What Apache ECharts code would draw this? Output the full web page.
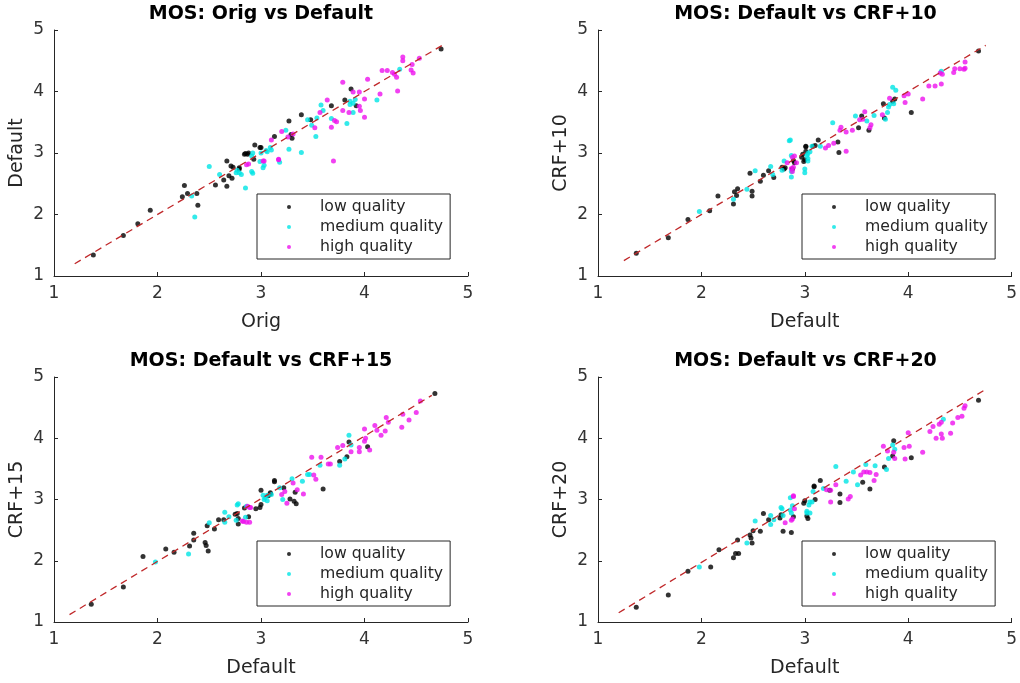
<!DOCTYPE html>
<html>
<head>
<meta charset="utf-8">
<script src="https://cdn.jsdelivr.net/npm/echarts@6/dist/echarts.min.js"></script>
<style>
html,body{margin:0;padding:0;background:#fff;}
#chart{width:1020px;height:683px;}
</style>
</head>
<body>
<div id="chart"></div>
<script>
// ---- Titles / axis names ----
const titles = ['MOS: Orig vs Default', 'MOS: Default vs CRF+10', 'MOS: Default vs CRF+15', 'MOS: Default vs CRF+20'];
const xNames = ['Orig', 'Default', 'Default', 'Default'];
const yNames = ['Default', 'CRF+10', 'CRF+15', 'CRF+20'];
const qualityNames = ['low quality', 'medium quality', 'high quality'];
const tickValues = [1, 2, 3, 4, 5];

// ---- Plot 1: Orig vs Default ----
const p1Low = [[1.38,1.34],[1.67,1.66],[1.81,1.85],[1.93,2.07],[2.26,2.47],[2.24,2.29],[2.29,2.34],[2.38,2.34],[2.39,2.15],[2.56,2.48],[2.67,2.87],[2.71,2.79],[2.64,2.56],[2.69,2.63],[2.72,2.59],[2.67,2.46],[2.79,2.74],[2.84,2.98],[2.87,2.98],[2.94,3.13],[2.99,3.09],[2.73,2.77],[2.79,2.76],[2.88,3.0],[2.85,2.99],[2.93,2.90],[3.0,3.09],[3.13,3.27],[3.29,3.30],[3.30,3.24],[3.27,3.52],[3.39,3.62],[3.48,3.54],[3.68,3.77],[3.81,3.86],[3.87,4.04],[3.92,3.77],[4.74,4.69]];
const p1Med = [[2.36,1.96],[2.33,2.3],[2.50,2.78],[2.60,2.65],[2.76,2.68],[2.81,2.65],[2.85,2.43],[2.92,2.67],[2.92,3.0],[3.0,3.0],[3.02,2.76],[3.06,3.02],[3.1,3.05],[2.77,2.72],[2.79,2.68],[2.91,2.70],[2.91,2.95],[2.99,2.86],[3.03,2.8],[3.18,2.85],[3.09,3.09],[3.05,3.04],[3.27,3.06],[3.39,3.01],[3.24,3.37],[3.45,3.54],[3.54,3.57],[3.49,3.45],[3.53,3.27],[3.58,3.78],[3.60,3.69],[3.68,3.56],[3.83,3.48],[3.86,3.84],[3.89,3.81],[3.86,3.79],[3.91,3.87],[3.89,3.66],[4.12,3.86],[4.34,4.36]];
const p1High = [[2.88,2.82],[3.03,2.87],[3.17,2.89],[3.02,2.87],[2.86,2.81],[3.17,2.90],[3.10,3.21],[3.20,3.35],[3.31,3.31],[3.26,3.26],[3.52,3.41],[3.57,3.66],[3.64,3.86],[3.71,3.53],[3.73,3.51],[3.68,3.42],[3.70,2.87],[3.79,3.69],[3.85,3.66],[3.96,3.69],[4.0,3.58],[3.95,3.76],[3.79,4.15],[3.89,3.99],[3.95,3.99],[4.0,3.88],[4.15,3.96],[4.03,4.20],[4.17,4.34],[4.22,4.34],[4.27,4.31],[4.29,4.28],[4.31,4.23],[4.32,4.01],[4.45,4.35],[4.47,4.30],[4.46,4.44],[4.37,4.56],[4.37,4.50],[4.53,4.54]];
const p1Fit = [[1.2,1.2],[4.75,4.75]];

// ---- Plot 2: Default vs CRF+10 ----
const p2Low = [[1.37,1.37],[1.68,1.62],[1.87,1.92],[2.08,2.06],[2.16,2.30],[2.31,2.17],[2.32,2.37],[2.35,2.42],[2.34,2.31],[2.49,2.38],[2.49,2.30],[2.47,2.67],[2.60,2.64],[2.57,2.54],[2.65,2.71],[2.70,2.60],[2.78,2.77],[2.80,2.74],[2.90,2.84],[2.99,2.86],[3.0,2.89],[3.01,3.10],[3.08,3.11],[2.81,2.76],[2.88,2.74],[2.89,2.88],[2.97,2.93],[2.98,2.98],[3.01,3.03],[3.01,3.11],[3.10,3.12],[3.13,3.21],[3.32,3.18],[3.33,3.01],[3.52,3.41],[3.62,3.37],[3.55,3.60],[3.77,3.57],[3.76,3.80],[3.85,3.84],[3.87,3.88],[4.03,3.66],[4.68,4.66]];
const p2Med = [[1.98,2.05],[2.31,2.25],[2.44,2.41],[2.52,2.71],[2.67,2.78],[2.69,2.65],[2.78,2.72],[2.87,2.61],[2.87,2.96],[3.0,2.68],[3.02,2.96],[3.03,2.87],[3.05,3.02],[2.85,3.2],[2.86,3.21],[2.80,2.87],[2.87,2.70],[3.0,2.74],[3.03,2.99],[3.03,2.91],[3.07,3.11],[3.15,3.11],[3.27,3.49],[3.49,3.60],[3.60,3.52],[3.67,3.61],[3.80,3.66],[3.78,3.55],[3.81,3.75],[3.82,3.79],[3.86,3.80],[3.85,4.07],[3.88,4.02],[4.32,4.33]];
const p2High = [[2.87,2.75],[2.88,2.70],[2.88,2.93],[2.83,2.84],[2.90,2.95],[2.92,2.84],[2.89,2.77],[3.20,3.08],[3.23,3.12],[3.28,3.16],[3.40,3.03],[3.34,3.37],[3.35,3.42],[3.40,3.34],[3.46,3.37],[3.53,3.54],[3.56,3.55],[3.58,3.67],[3.64,3.46],[3.63,3.41],[3.75,3.62],[3.82,3.89],[3.97,3.82],[3.96,3.93],[4.0,3.96],[4.14,3.88],[4.20,4.09],[4.26,4.09],[4.32,4.12],[4.31,4.30],[4.33,4.28],[4.44,4.31],[4.45,4.37],[4.50,4.37],[4.54,4.36],[4.55,4.38],[4.55,4.48]];
const p2Fit = [[1.25,1.25],[4.75,4.75]];

// ---- Plot 3: Default vs CRF+15 ----
const p3Low = [[1.36,1.29],[1.67,1.57],[1.86,2.07],[2.08,2.19],[2.16,2.14],[2.31,2.24],[2.35,2.45],[2.35,2.34],[2.46,2.30],[2.47,2.25],[2.49,2.16],[2.48,2.57],[2.55,2.52],[2.59,2.67],[2.64,2.67],[2.75,2.76],[2.78,2.60],[2.84,2.86],[2.95,2.85],[3.0,3.15],[3.07,3.06],[3.09,3.09],[3.13,3.29],[2.77,2.77],[2.78,2.69],[2.88,2.72],[3.0,2.92],[2.99,2.87],[3.09,3.11],[3.13,3.31],[3.22,3.19],[3.33,3.12],[3.32,2.97],[3.28,3.01],[3.34,2.93],[3.60,3.17],[3.76,3.62],[3.83,3.70],[3.85,3.94],[4.03,3.86],[4.68,4.73]];
const p3Med = [[1.98,1.98],[2.30,2.11],[2.50,2.62],[2.65,2.79],[2.65,2.63],[2.69,2.72],[2.76,2.66],[2.77,2.91],[2.85,2.71],[3.02,3.07],[3.04,3.03],[3.06,2.98],[2.78,2.93],[2.86,2.89],[3.03,3.00],[3.10,3.08],[3.06,3.07],[3.18,3.19],[3.21,3.00],[3.30,3.34],[3.40,3.30],[3.45,3.41],[3.47,3.41],[3.57,3.56],[3.76,3.56],[3.81,3.66],[3.85,4.05],[3.87,3.89]];
const p3High = [[2.82,2.65],[2.86,2.63],[2.87,2.89],[2.89,2.87],[2.83,2.64],[2.89,2.63],[2.90,2.87],[3.23,3.13],[3.20,3.08],[3.25,2.94],[3.31,3.27],[3.35,3.16],[3.41,3.09],[3.51,3.40],[3.53,3.33],[3.49,3.69],[3.58,3.69],[3.65,3.58],[3.67,3.58],[3.74,3.85],[3.79,3.88],[3.87,3.78],[3.95,3.85],[3.95,3.78],[4.0,4.15],[4.01,4.0],[4.0,3.95],[4.05,3.81],[4.10,4.21],[4.12,4.13],[4.16,4.05],[4.20,4.12],[4.21,4.34],[4.23,4.26],[4.36,4.18],[4.37,4.39],[4.43,4.30],[4.50,4.42],[4.54,4.61]];
const p3Fit = [[1.15,1.12],[4.65,4.7]];

// ---- Plot 4: Default vs CRF+20 ----
const p4Low = [[1.37,1.24],[1.68,1.44],[1.87,1.83],[2.09,1.90],[2.17,2.18],[2.31,2.05],[2.33,2.12],[2.36,2.12],[2.35,2.34],[2.49,2.29],[2.48,2.37],[2.47,2.42],[2.50,2.49],[2.57,2.48],[2.60,2.77],[2.65,2.67],[2.76,2.70],[2.79,2.48],[2.87,2.46],[2.99,2.94],[3.03,2.69],[3.09,3.21],[2.77,2.75],[2.89,2.72],[3.0,2.98],[3.02,2.73],[3.10,3.00],[3.09,3.22],[3.15,3.31],[3.24,3.15],[3.34,3.09],[3.34,2.95],[3.56,3.28],[3.63,3.17],[3.77,3.53],[3.85,3.71],[3.86,3.96],[4.03,3.68],[4.68,4.62]];
const p4Med = [[1.98,1.90],[2.44,2.29],[2.52,2.65],[2.67,2.74],[2.67,2.59],[2.70,2.67],[2.78,2.85],[2.79,2.74],[2.87,2.78],[2.86,3.03],[3.02,2.78],[3.05,2.78],[3.04,2.91],[3.07,2.96],[2.77,2.87],[2.86,2.83],[2.88,2.90],[3.02,2.81],[3.05,2.96],[3.08,3.13],[3.18,3.18],[3.30,3.54],[3.40,3.30],[3.47,3.45],[3.51,3.24],[3.59,3.57],[3.68,3.55],[3.79,3.49],[3.81,3.67],[3.85,3.89],[3.87,3.82],[4.34,4.31]];
const p4High = [[2.81,2.62],[2.87,2.66],[2.89,3.05],[2.90,2.85],[2.88,2.68],[2.89,3.06],[3.21,3.16],[3.25,3.15],[3.25,2.96],[3.30,3.24],[3.42,3.01],[3.44,3.05],[3.54,3.40],[3.57,3.45],[3.60,3.45],[3.63,3.44],[3.67,3.31],[3.69,3.41],[3.76,3.87],[3.80,3.79],[3.86,3.77],[3.87,3.67],[3.96,3.85],[4.01,3.87],[3.97,3.66],[4.0,4.09],[4.14,3.77],[4.21,4.11],[4.24,4.19],[4.27,4.0],[4.30,4.23],[4.32,4.26],[4.32,4.07],[4.33,4.0],[4.41,4.08],[4.43,4.25],[4.48,4.34],[4.52,4.36],[4.54,4.49],[4.55,4.53]];
const p4Fit = [[1.2,1.15],[4.75,4.8]];

const plots = [
  {low: p1Low, med: p1Med, high: p1High, fit: p1Fit},
  {low: p2Low, med: p2Med, high: p2High, fit: p2Fit},
  {low: p3Low, med: p3Med, high: p3High, fit: p3Fit},
  {low: p4Low, med: p4Med, high: p4High, fit: p4Fit}
];

// ---- Layout (pixels) ----
const grids = [
  {left: 54, top: 30, width: 414, height: 246},
  {left: 598, top: 30, width: 415, height: 246},
  {left: 54, top: 377, width: 414, height: 245},
  {left: 598, top: 377, width: 415, height: 245}
];
const legendPos = [
  {left: 257, top: 194},
  {left: 802, top: 194},
  {left: 257, top: 541},
  {left: 802, top: 541}
];
const colors = ['#000000', '#00e5e5', '#ee11ee'];
const FONT = 'DejaVu Sans';
const axisColor = '#262626';

const option = {
  animation: false,
  backgroundColor: '#ffffff',
  title: [], grid: [], xAxis: [], yAxis: [], legend: [], series: []
};

plots.forEach((p, i) => {
  const g = grids[i];
  option.grid.push({left: g.left, top: g.top, width: g.width, height: g.height, containLabel: false});
  option.title.push({
    text: titles[i], left: g.left + g.width / 2, top: g.top - 25, textAlign: 'center',
    padding: 0,
    textStyle: {fontFamily: FONT, fontSize: 19, fontWeight: 'bold', color: '#000'}
  });
  const axisCommon = {
    type: 'value', min: 1, max: 5, interval: 1, gridIndex: i,
    axisLine: {show: true, lineStyle: {color: axisColor, width: 1}},
    axisTick: {show: true, inside: true, length: 4, lineStyle: {color: axisColor}},
    splitLine: {show: false},
    nameLocation: 'middle',
    nameTextStyle: {fontFamily: FONT, fontSize: 19, color: axisColor}
  };
  option.xAxis.push(Object.assign({}, axisCommon, {
    name: xNames[i], nameGap: 37,
    axisLabel: {fontFamily: FONT, fontSize: 17, color: '#333', margin: 9}
  }));
  option.yAxis.push(Object.assign({}, axisCommon, {
    name: yNames[i], nameGap: 27,
    axisLabel: {fontFamily: FONT, fontSize: 17, color: '#333', margin: 10}
  }));
  const lp = legendPos[i];
  option.legend.push({
    left: lp.left, top: lp.top, orient: 'vertical',
    data: qualityNames, selectedMode: false,
    itemWidth: 4, itemHeight: 4, itemGap: 4,
    padding: [5, 7, 4, 30],
    borderColor: axisColor, borderWidth: 1, backgroundColor: '#fff',
    icon: 'circle',
    textStyle: {fontFamily: FONT, fontSize: 15.7, color: axisColor, padding: [0, 0, 0, 24]}
  });
  [p.low, p.med, p.high].forEach((d, k) => {
    option.series.push({
      type: 'scatter', name: qualityNames[k], xAxisIndex: i, yAxisIndex: i,
      data: d, symbol: 'circle', symbolSize: 5,
      itemStyle: {color: colors[k]}
    });
  });
  option.series.push({
    type: 'line', name: 'fit' + i, xAxisIndex: i, yAxisIndex: i, data: p.fit,
    symbol: 'none', lineStyle: {color: '#c0282a', width: 1.3, type: [7, 5]}, z: 3
  });
});

const chart = echarts.init(document.getElementById('chart'), null, {renderer: 'canvas'});
chart.setOption(option);
</script>
</body>
</html>
